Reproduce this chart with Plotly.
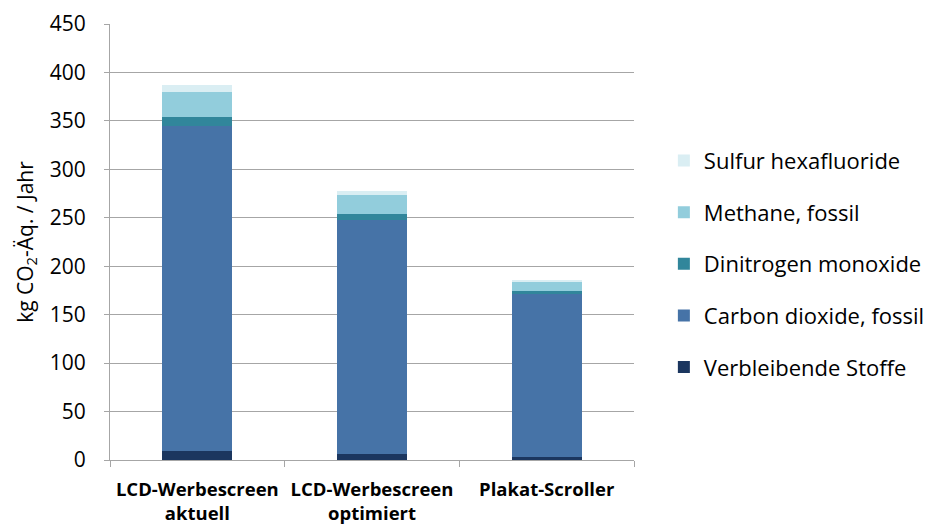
import plotly.graph_objects as go

categories = ["LCD-Werbescreen<br>aktuell", "LCD-Werbescreen<br>optimiert", "Plakat-Scroller"]
verbleibende = [9, 6.5, 3.5]
carbon_dioxide = [336, 241.5, 167.5]
dinitrogen = [9, 6, 3.5]
methane = [26, 19, 9.5]
sulfur = [7, 5, 1.2]

series = [
    ("Verbleibende Stoffe", verbleibende, "#1B365F"),
    ("Carbon dioxide, fossil", carbon_dioxide, "#4673A7"),
    ("Dinitrogen monoxide", dinitrogen, "#31869B"),
    ("Methane, fossil", methane, "#92CDDC"),
    ("Sulfur hexafluoride", sulfur, "#DAEEF3"),
]

FONT = "Open Sans"
fig = go.Figure()
n = len(series)
for i, (name, vals, col) in enumerate(series):
    fig.add_trace(go.Bar(x=categories, y=vals, name=name, marker_color=col,
                         marker_line_width=0, legendgroup=f"g{i}",
                         legendrank=n - i, width=0.4))

fig.update_layout(
    barmode="stack",
    width=934, height=526,
    margin=dict(l=102, r=304, t=16, b=74),
    plot_bgcolor="white", paper_bgcolor="white",
    font=dict(family=FONT, size=20, color="#000000"),
    showlegend=True,
    legend=dict(traceorder="grouped", tracegroupgap=20,
                x=1.057, xanchor="left", y=0.45, yanchor="middle",
                font=dict(size=22, family=FONT)),
    yaxis=dict(range=[0, 450], dtick=50, showgrid=True, gridcolor="#A6A6A6",
               gridwidth=1, showline=True, linecolor="#A6A6A6", ticks="outside",
               ticklen=5, tickcolor="#A6A6A6", zeroline=False, automargin=False,
               tickfont=dict(size=21), ticklabelstandoff=14,
               title=dict(text="kg CO<sub>2</sub>-Äq. / Jahr", font=dict(size=21), standoff=10)),
    xaxis=dict(showline=True, linecolor="#A6A6A6", ticks="outside", ticklen=6,
               tickcolor="#A6A6A6", tickson="boundaries", ticklabelstandoff=13,
               automargin=False, tickangle=0,
               tickfont=dict(size=18.5, family=FONT, weight="bold")),
)

fig.write_html("out.html")
